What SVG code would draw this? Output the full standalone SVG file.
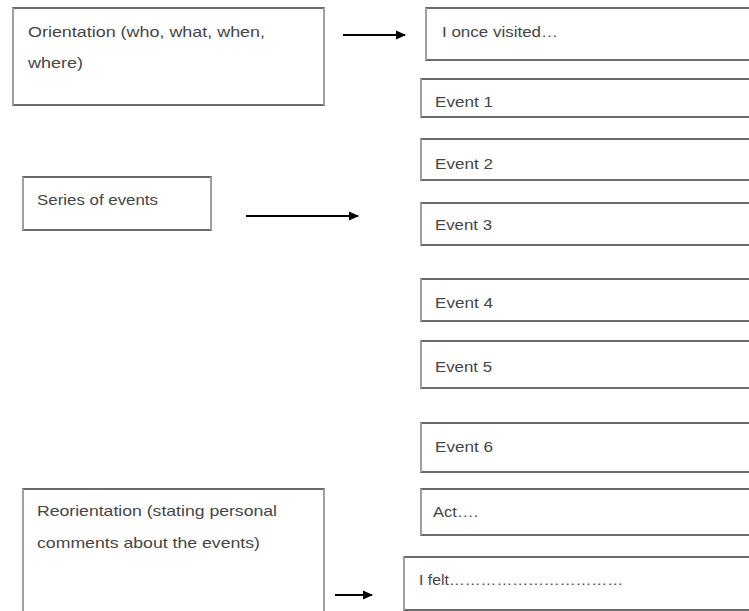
<svg xmlns="http://www.w3.org/2000/svg" width="749" height="611" viewBox="0 0 749 611">
<style>
.box{fill:#fff;stroke:#3a3a3a;stroke-width:1.5}
.side{stroke:#a0a0a0;stroke-width:2;fill:none}
.t{font-family:"Liberation Sans Narrow","Liberation Sans",Arial,sans-serif;font-size:15px;fill:#454545}
.arr{stroke:#000;stroke-width:2;fill:none}
</style>
<defs>
<marker id="ah" markerWidth="11" markerHeight="11" refX="9" refY="5.5" orient="auto" markerUnits="userSpaceOnUse">
<path d="M0,1 L10,5.5 L0,10 Z" fill="#000"/>
</marker>
</defs>
<rect width="749" height="611" fill="#fff"/>
<g id="orientation">
<rect class="box" x="13" y="8" width="311" height="97"/>
<path class="side" d="M13,8 V105 M324,8 V105"/>
<text class="t" x="28" y="37" textLength="237" lengthAdjust="spacingAndGlyphs">Orientation (who, what, when,</text>
<text class="t" x="28" y="68" textLength="55" lengthAdjust="spacingAndGlyphs">where)</text>
</g>
<g id="once">
<rect class="box" x="426" y="8" width="340" height="52"/>
<path class="side" d="M426,8 V60"/>
<text class="t" x="442" y="37" textLength="116" lengthAdjust="spacingAndGlyphs">I once visited…</text>
</g>
<g id="event1">
<rect class="box" x="421" y="79" width="345" height="38"/>
<path class="side" d="M421,79 V117"/>
<text class="t" x="435" y="107" textLength="58" lengthAdjust="spacingAndGlyphs">Event 1</text>
</g>
<g id="event2">
<rect class="box" x="421" y="139" width="345" height="41"/>
<path class="side" d="M421,139 V180"/>
<text class="t" x="435" y="169" textLength="58" lengthAdjust="spacingAndGlyphs">Event 2</text>
</g>
<g id="series">
<rect class="box" x="23" y="177" width="188" height="53"/>
<path class="side" d="M23,177 V230 M211,177 V230"/>
<text class="t" x="37" y="205" textLength="121" lengthAdjust="spacingAndGlyphs">Series of events</text>
</g>
<g id="event3">
<rect class="box" x="421" y="203" width="345" height="42"/>
<path class="side" d="M421,203 V245"/>
<text class="t" x="435" y="230" textLength="57" lengthAdjust="spacingAndGlyphs">Event 3</text>
</g>
<g id="event4">
<rect class="box" x="421" y="279" width="345" height="42"/>
<path class="side" d="M421,279 V321"/>
<text class="t" x="435" y="308" textLength="58" lengthAdjust="spacingAndGlyphs">Event 4</text>
</g>
<g id="event5">
<rect class="box" x="421" y="341" width="345" height="47"/>
<path class="side" d="M421,341 V388"/>
<text class="t" x="435" y="372" textLength="57" lengthAdjust="spacingAndGlyphs">Event 5</text>
</g>
<g id="event6">
<rect class="box" x="421" y="423" width="345" height="49"/>
<path class="side" d="M421,423 V472"/>
<text class="t" x="435" y="452" textLength="58" lengthAdjust="spacingAndGlyphs">Event 6</text>
</g>
<g id="act">
<rect class="box" x="421" y="489" width="345" height="46"/>
<path class="side" d="M421,489 V535"/>
<text class="t" x="433" y="517" textLength="45" lengthAdjust="spacingAndGlyphs">Act….</text>
</g>
<g id="felt">
<rect class="box" x="404" y="557" width="362" height="53"/>
<path class="side" d="M404,557 V610"/>
<text class="t" x="419" y="585" textLength="204" lengthAdjust="spacingAndGlyphs">I felt……………………………</text>
</g>
<g id="reorientation">
<rect class="box" x="23" y="489" width="301" height="140"/>
<path class="side" d="M23,489 V611 M324,489 V611"/>
<text class="t" x="37" y="516" textLength="240" lengthAdjust="spacingAndGlyphs">Reorientation (stating personal</text>
<text class="t" x="37" y="548" textLength="223" lengthAdjust="spacingAndGlyphs">comments about the events)</text>
</g>
<g id="connectors">
<line class="arr" x1="343" y1="35" x2="405" y2="35" marker-end="url(#ah)"/>
<line class="arr" x1="246" y1="216" x2="358" y2="216" marker-end="url(#ah)"/>
<line class="arr" x1="335" y1="595" x2="372" y2="595" marker-end="url(#ah)"/>
</g>
</svg>
